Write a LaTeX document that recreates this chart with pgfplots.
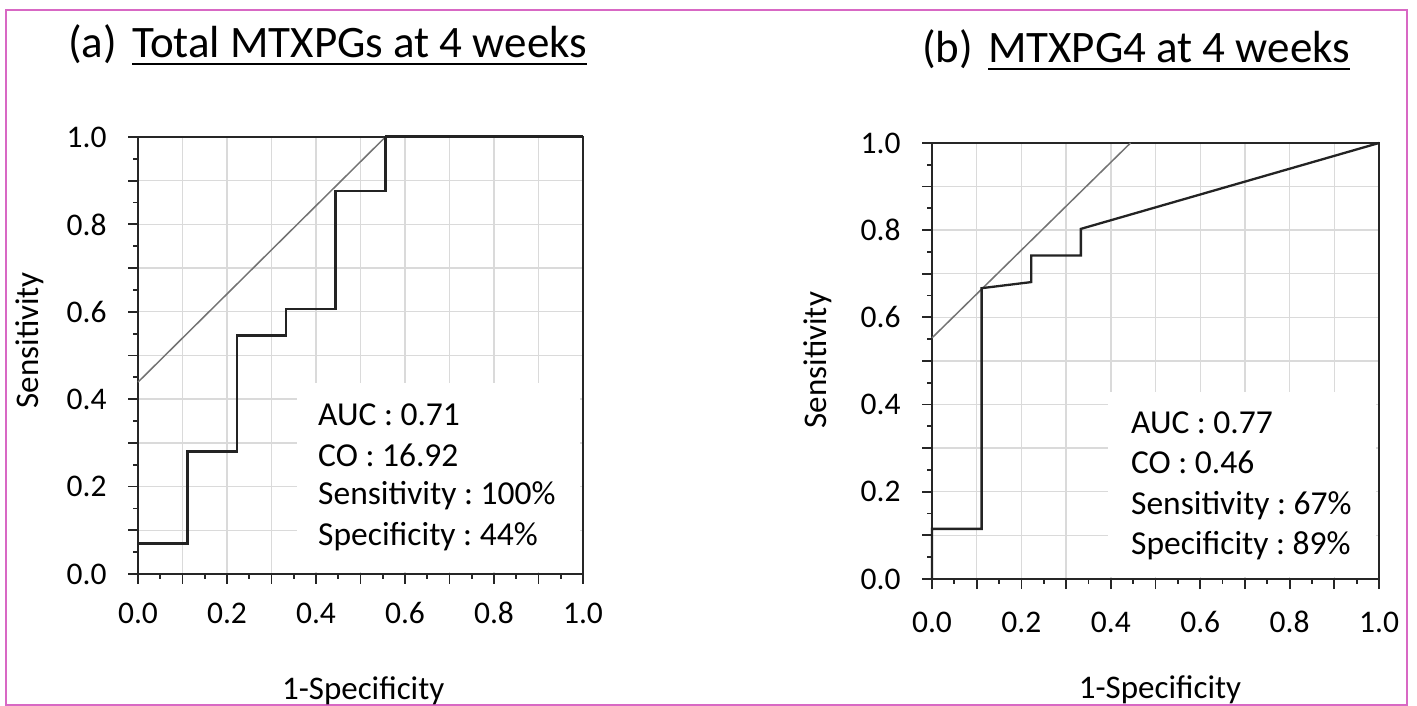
\documentclass[border=0pt]{standalone}
\usepackage{fontspec}
\setmainfont{Carlito}
\usepackage{pgfplots}
\pgfplotsset{compat=1.18}
\frenchspacing
\definecolor{framepink}{RGB}{216,104,196}
\definecolor{gridgray}{RGB}{218,218,218}
\definecolor{curvedark}{RGB}{35,35,35}
\definecolor{diaggray}{RGB}{115,115,115}
\pgfplotsset{
  rocax/.style={
    scale only axis,
    xmin=0, xmax=1, ymin=0, ymax=1,
    xtick={0,0.1,0.2,0.3,0.4,0.5,0.6,0.7,0.8,0.9,1},
    ytick={0,0.1,0.2,0.3,0.4,0.5,0.6,0.7,0.8,0.9,1},
    xticklabels={0.0,,0.2,,0.4,,0.6,,0.8,,1.0},
    yticklabels={0.0,,0.2,,0.4,,0.6,,0.8,,1.0},
    minor xtick={0.05,0.15,0.25,0.35,0.45,0.55,0.65,0.75,0.85,0.95},
    minor ytick={0.05,0.15,0.25,0.35,0.45,0.55,0.65,0.75,0.85,0.95},
    grid=major,
    major grid style={gridgray, line width=1.4bp},
    tick align=outside,
    major tick length=10bp,
    minor tick length=5bp,
    xtick pos=bottom, ytick pos=left,
    axis line style={line width=2bp, black!85},
    every tick/.style={line width=1.8bp, black!85},
    tick label style={font=\fontsize{31.5bp}{36bp}\selectfont},
    yticklabel style={anchor=east, xshift=-18bp},
    label style={font=\fontsize{33bp}{38bp}\selectfont},
    clip=false,
  },
  roc/.style={line width=2.3bp, curvedark, no marks, line join=miter},
  diag/.style={line width=1.5bp, diaggray, no marks},
}
\begin{document}
\begin{tikzpicture}[x=1bp,y=1bp]
\path[use as bounding box] (0,0) rectangle (1417,706);
\draw[framepink, line width=1.6bp] (6,1) rectangle (1407,696);
% titles
\node[anchor=base west, inner sep=0, font=\fontsize{45bp}{50bp}\selectfont] at (68,648) {(a)};
\node[anchor=base west, inner sep=0, font=\fontsize{45bp}{50bp}\selectfont] (ta) at (132,648) {Total MTXPGs at 4 weeks};
\draw[line width=2bp] ([yshift=-6bp]ta.base west) -- ([yshift=-6bp]ta.base east);
\node[anchor=base west, inner sep=0, font=\fontsize{45bp}{50bp}\selectfont] at (922,643) {(b)};
\node[anchor=base west, inner sep=0, font=\fontsize{45bp}{50bp}\selectfont] (tb) at (988,643) {MTXPG4 at 4 weeks};
\draw[line width=2bp] ([yshift=-6bp]tb.base west) -- ([yshift=-6bp]tb.base east);

% panel (a)
\begin{axis}[rocax, at={(138bp,132bp)}, anchor=south west, width=445bp, height=437bp,
  xticklabel style={anchor=base, yshift=-40bp},
  xlabel={1-Specificity}, ylabel={Sensitivity},
  xlabel style={at={(axis description cs:0.506,0)}, anchor=base, yshift=-125bp},
  ylabel style={at={(axis description cs:-0.2427,0.535)}, anchor=center}]
  \fill[white] (axis cs:0.357,0.004) rectangle (axis cs:0.994,0.437);
  \addplot[diag] coordinates {(0,0.439) (0.556,1)};
  \addplot[roc] coordinates {(0,0) (0,0.07) (0.111,0.07) (0.111,0.28) (0.222,0.28) (0.222,0.546) (0.333,0.546) (0.333,0.607) (0.444,0.607) (0.444,0.876) (0.556,0.876) (0.556,1) (1,1)};
  \begin{scope}[every node/.style={anchor=base west, inner sep=0, font=\fontsize{33.5bp}{38bp}\selectfont}]
  \node at (axis cs:0.4045,0.3387) {AUC : 0.71};
  \node at (axis cs:0.4045,0.247) {CO : 16.92};
  \node at (axis cs:0.4045,0.158) {Sensitivity : 100\%};
  \node at (axis cs:0.4045,0.066) {Specificity : 44\%};
  \end{scope}
  \draw[line width=3bp, curvedark] (axis cs:0.556,1) -- (axis cs:1,1);
\end{axis}

% panel (b)
\begin{axis}[rocax, at={(932bp,127bp)}, anchor=south west, width=447bp, height=436bp,
  xticklabel style={anchor=base, yshift=-43bp},
  xlabel={1-Specificity}, ylabel={Sensitivity},
  xlabel style={at={(axis description cs:0.51,0)}, anchor=base, yshift=-119bp},
  ylabel style={at={(axis description cs:-0.255,0.502)}, anchor=center}]
  \fill[white] (axis cs:0.394,0.004) rectangle (axis cs:0.994,0.428);
  \addplot[diag] coordinates {(0,0.553) (0.444,1)};
  \addplot[roc] coordinates {(0,0) (0,0.115) (0.111,0.115) (0.111,0.667) (0.222,0.681) (0.222,0.742) (0.333,0.742) (0.333,0.803) (1,1)};
  \begin{scope}[every node/.style={anchor=base west, inner sep=0, font=\fontsize{33.5bp}{38bp}\selectfont}]
  \node at (axis cs:0.445,0.333) {AUC : 0.77};
  \node at (axis cs:0.445,0.241) {CO : 0.46};
  \node at (axis cs:0.445,0.149) {Sensitivity : 67\%};
  \node at (axis cs:0.445,0.057) {Specificity : 89\%};
  \end{scope}
\end{axis}
\end{tikzpicture}
\end{document}
